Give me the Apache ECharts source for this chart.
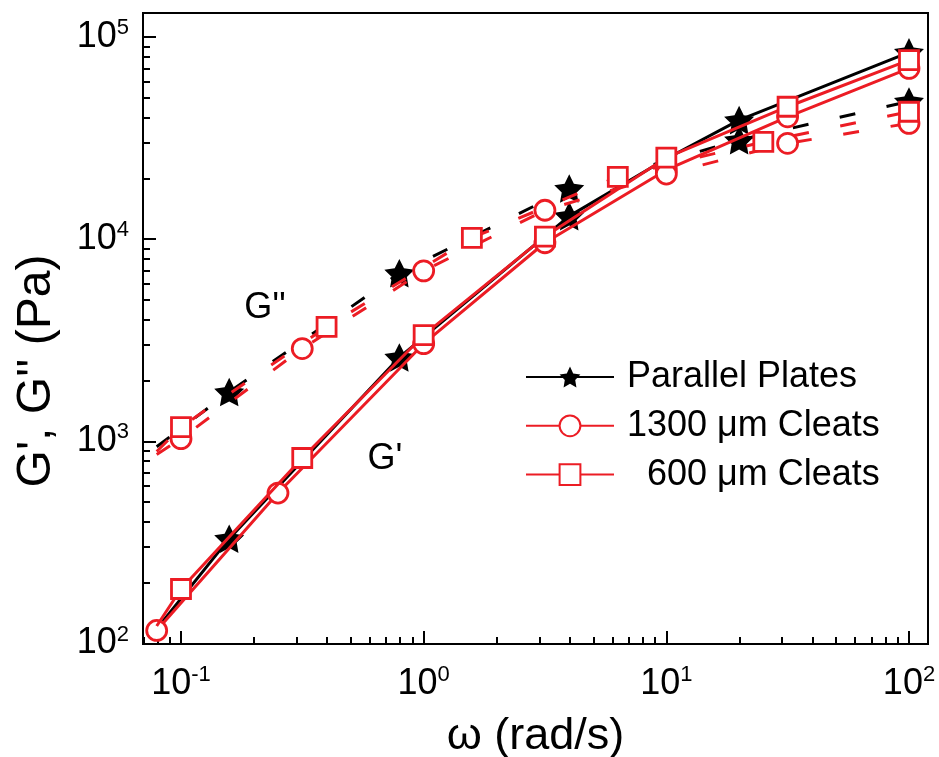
<!DOCTYPE html>
<html>
<head>
<meta charset="utf-8">
<script src="https://cdn.jsdelivr.net/npm/echarts@6/dist/echarts.min.js"></script>
<style>
  html, body { margin: 0; padding: 0; background: #fff; }
  #chart { width: 939px; height: 757px; }
</style>
</head>
<body>
<div id="chart"></div>
<script>
// Frequency sweep: angular frequency w (rad/s), storage G' and loss G'' moduli (Pa).
// A 1 in a *Mk list means the point carries a symbol; 0 means the curve only passes through it.

// Parallel plates
const platesGpW  = [0.0794, 0.158, 0.794, 3.98, 10, 19.95, 100];
const platesGp   = [118, 330, 2600, 13000, 25000, 38800, 84000];
const platesGpMk = [0, 1, 1, 1, 0, 1, 1];
const platesGppW  = [0.0794, 0.158, 0.794, 3.98, 19.95, 100];
const platesGpp   = [940, 1754, 6790, 17800, 30900, 48000];
const platesGppMk = [0, 1, 1, 1, 1, 1];

// 1300 um cleats
const c1300GpW  = [0.0794, 0.251, 1.0, 3.16, 10, 31.6, 100];
const c1300Gp   = [116, 555, 3040, 9600, 22000, 40300, 70000];
const c1300GpMk = [1, 1, 1, 1, 1, 1, 1];
const c1300GppW  = [0.0794, 0.1, 0.316, 1.0, 3.16, 10, 31.6, 100];
const c1300Gpp   = [860, 1031, 2877, 6970, 13900, 21000, 29800, 37400];
const c1300GppMk = [0, 1, 1, 1, 1, 1, 1, 1];

// 600 um cleats
const c600GpW  = [0.0794, 0.1, 0.316, 1.0, 3.16, 10, 31.6, 100];
const c600Gp   = [122, 186, 827, 3350, 10300, 25300, 45200, 76900];
const c600GpMk = [0, 1, 1, 1, 1, 1, 1, 1];
const c600GppW  = [0.0794, 0.1, 0.398, 1.58, 6.31, 25.1, 100];
const c600Gpp   = [890, 1177, 3680, 10150, 20350, 30300, 42700];
const c600GppMk = [0, 1, 1, 1, 1, 1, 1];

// Legend names
const seriesNames = ['Parallel Plates', '1300 \u03bcm Cleats', '600 \u03bcm Cleats'];

// In-plot annotations
const noteText = ["G''", "G'"];
const noteW = [0.222, 0.693];
const noteG = [4690, 833];

// Axis ticks
const xMajor = [0.1, 1, 10, 100];
const xMinor = [0.07, 0.08, 0.09, 0.2, 0.3, 0.4, 0.5, 0.6, 0.7, 0.8, 0.9,
                2, 3, 4, 5, 6, 7, 8, 9, 20, 30, 40, 50, 60, 70, 80, 90];
const yMajor = [100, 1000, 10000, 100000];
const yMinor = [200, 300, 400, 500, 600, 700, 800, 900,
                2000, 3000, 4000, 5000, 6000, 7000, 8000, 9000,
                20000, 30000, 40000, 50000, 60000, 70000, 80000, 90000];

const X_MIN = 0.06973, X_MAX = 119.76;
const Y_MIN = 99.43, Y_MAX = 131460;

const FONT = "'Liberation Sans', Arial, Helvetica, sans-serif";
const RED = '#ec1c24';
const BLACK = '#000000';
const LINE_W = 3;

function starPath(inner) {
  let d = '';
  for (let i = 0; i < 10; i++) {
    const r = i % 2 === 0 ? 50 : 50 * inner;
    const a = -Math.PI / 2 + i * Math.PI / 5;
    d += (i ? 'L' : 'M') + (50 + r * Math.cos(a)).toFixed(2) + ' ' + (50 + r * Math.sin(a)).toFixed(2);
  }
  return 'path://' + d + 'Z';
}
const STAR = starPath(0.5);

function points(w, g, mk) {
  return w.map((x, i) => mk[i] ? [x, g[i]] : { value: [x, g[i]], symbol: 'none' });
}

function powLabel(v) {
  const e = Math.round(Math.log10(v));
  return '{b|10}{s|' + e + '}';
}
const powRich = {
  b: { fontSize: 36, fontFamily: FONT, color: BLACK, lineHeight: 40 },
  s: { fontSize: 22, fontFamily: FONT, color: BLACK, verticalAlign: 'top', lineHeight: 22 }
};

function curve(name, w, g, mk, color, dashed, symbol, size, fill, z) {
  return {
    type: 'line',
    name: name,
    data: points(w, g, mk),
    xAxisIndex: 0, yAxisIndex: 0,
    showSymbol: true,
    symbol: symbol,
    symbolSize: size,
    symbolKeepAspect: true,
    lineStyle: { color: color, width: LINE_W, type: dashed ? [16, 32] : 'solid' },
    itemStyle: { color: fill, borderColor: color, borderWidth: symbol === STAR ? 0 : 2.8, opacity: 1 },
    emphasis: { disabled: true },
    silent: true,
    z: z
  };
}

const chart = echarts.init(document.getElementById('chart'), null, { renderer: 'canvas' });

const option = {
  animation: false,
  backgroundColor: '#ffffff',
  grid: {
    left: 143, top: 13, width: 785, height: 631,
    containLabel: false, outerBoundsMode: 'none',
    show: true, borderColor: BLACK, borderWidth: 2, backgroundColor: 'transparent'
  },
  legend: {
    data: seriesNames,
    orient: 'vertical',
    left: 525, top: 359,
    padding: 0,
    itemWidth: 88, itemHeight: 26, itemGap: 12.8,
    selectedMode: false,
    formatter: n => (n === seriesNames[2] ? '  ' + n : n),
    textStyle: { fontSize: 36, fontFamily: FONT, color: BLACK, padding: [0, 0, 0, 8] }
  },
  xAxis: [
    {
      type: 'log', logBase: 10, min: X_MIN, max: X_MAX, position: 'bottom',
      axisLine: { show: true, lineStyle: { color: BLACK, width: 2 } },
      axisTick: { show: true, inside: true, length: 13, customValues: xMajor, lineStyle: { color: BLACK, width: 2 } },
      axisLabel: { show: true, customValues: xMajor, margin: 20, formatter: powLabel, rich: powRich },
      splitLine: { show: false },
      name: '\u03c9 (rad/s)', nameLocation: 'middle', nameGap: 70,
      nameTextStyle: { fontSize: 45, fontFamily: FONT, color: BLACK }
    },
    {
      type: 'log', logBase: 10, min: X_MIN, max: X_MAX, position: 'bottom',
      axisLine: { show: false },
      axisTick: { show: true, inside: true, length: 7, customValues: xMinor, lineStyle: { color: BLACK, width: 2 } },
      axisLabel: { show: false },
      splitLine: { show: false }
    }
  ],
  yAxis: [
    {
      type: 'log', logBase: 10, min: Y_MIN, max: Y_MAX, position: 'left',
      axisLine: { show: true, lineStyle: { color: BLACK, width: 2 } },
      axisTick: { show: true, inside: true, length: 13, customValues: yMajor, lineStyle: { color: BLACK, width: 2 } },
      axisLabel: { show: true, customValues: yMajor, margin: 14, formatter: powLabel, rich: powRich },
      splitLine: { show: false }
    },
    {
      type: 'log', logBase: 10, min: Y_MIN, max: Y_MAX, position: 'left',
      axisLine: { show: false },
      axisTick: { show: true, inside: true, length: 7, customValues: yMinor, lineStyle: { color: BLACK, width: 2 } },
      axisLabel: { show: false },
      splitLine: { show: false }
    }
  ],
  series: [
    curve(seriesNames[0], platesGpW, platesGp, platesGpMk, BLACK, false, STAR, 30, BLACK, 2),
    curve(seriesNames[0] + " G''", platesGppW, platesGpp, platesGppMk, BLACK, true, STAR, 30, BLACK, 2),
    curve(seriesNames[1], c1300GpW, c1300Gp, c1300GpMk, RED, false, 'circle', 20, '#ffffff', 3),
    curve(seriesNames[1] + " G''", c1300GppW, c1300Gpp, c1300GppMk, RED, true, 'circle', 20, '#ffffff', 3),
    curve(seriesNames[2], c600GpW, c600Gp, c600GpMk, RED, false, 'rect', 19, '#ffffff', 4),
    curve(seriesNames[2] + " G''", c600GppW, c600Gpp, c600GppMk, RED, true, 'rect', 19, '#ffffff', 4)
  ]
};

chart.setOption(option);

// Axis title on the left and the G'/G'' curve tags, placed through the axis scales
const texts = [{
  type: 'text', x: 37, y: 371, rotation: Math.PI / 2,
  style: { text: "G', G'' (Pa)", fontSize: 48, fontFamily: FONT, fill: BLACK, align: 'center', verticalAlign: 'middle' }
}];
noteText.forEach((t, i) => {
  const p = chart.convertToPixel({ xAxisIndex: 0, yAxisIndex: 0 }, [noteW[i], noteG[i]]);
  texts.push({
    type: 'text', x: p[0], y: p[1] + 2, z: 10,
    style: { text: t, fontSize: 36, fontFamily: FONT, fill: BLACK, align: 'center', verticalAlign: 'middle' }
  });
});
chart.setOption({ graphic: texts });
</script>
</body>
</html>
